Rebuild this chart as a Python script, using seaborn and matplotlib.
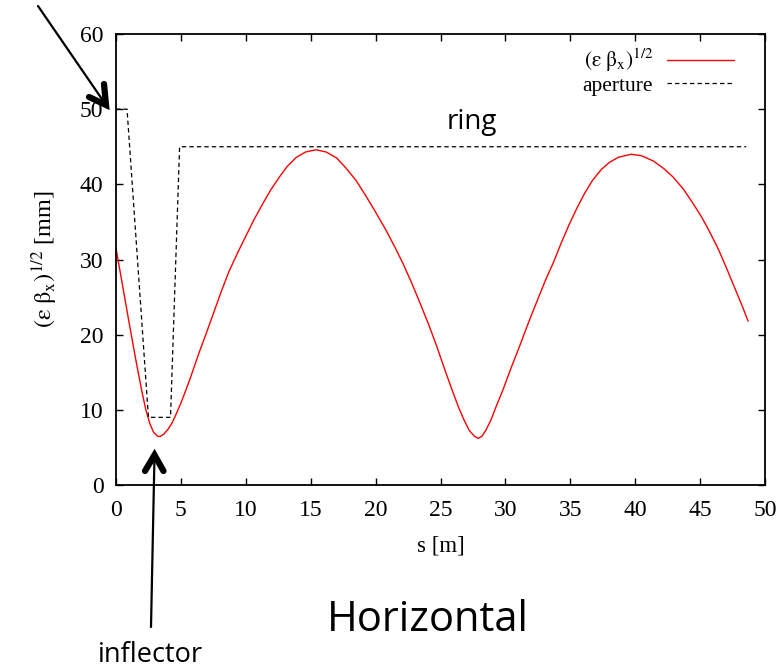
import matplotlib
matplotlib.use("Agg")
import matplotlib.pyplot as plt
import seaborn as sns
import pandas as pd

# Beam envelope sqrt(eps*beta_x) along the line [mm]
s_beam = [0.0, 0.5, 1.0, 1.5, 2.0, 2.3, 2.6, 2.9, 3.2, 3.4, 3.7, 4.0, 4.3, 4.6,
          5.0, 5.4, 5.8, 6.4, 7.0, 7.5, 8.1, 8.7, 9.4, 10.0, 10.6, 11.3, 11.9,
          12.6, 13.2, 13.9, 14.6, 15.4, 16.2, 17.0, 17.7, 18.5, 19.2, 19.9, 20.8,
          21.5, 22.1, 22.8, 23.4, 24.1, 24.7, 25.3, 25.9, 26.4, 26.8, 27.2, 27.6,
          27.9, 28.2, 28.5, 28.9, 29.3, 29.8, 30.4, 31.1, 31.8, 32.4, 33.1, 33.7,
          34.3, 34.9, 35.5, 36.1, 36.7, 37.4, 38.0, 38.7, 39.7, 40.5, 41.4, 42.2,
          42.9, 43.7, 44.4, 45.1, 45.7, 46.4, 47.0, 47.6, 48.2, 48.7]
env_beam = [31.5, 26.6, 21.7, 16.9, 12.4, 10.0, 8.2, 7.0, 6.5, 6.45, 6.8, 7.4, 8.2, 9.3,
            10.9, 12.7, 14.6, 17.6, 20.4, 22.8, 25.7, 28.4, 31.0, 33.1, 35.2, 37.4, 39.2,
            41.0, 42.4, 43.6, 44.3, 44.6, 44.3, 43.5, 42.2, 40.5, 38.6, 36.6, 33.9,
            31.6, 29.5, 26.8, 24.3, 21.3, 18.5, 15.5, 12.6, 10.3, 8.7, 7.3, 6.5,
            6.2, 6.5, 7.3, 8.7, 10.5, 12.6, 15.4, 18.5, 21.7, 24.3, 27.3, 29.6,
            32.2, 34.6, 36.8, 38.8, 40.5, 42.0, 42.9, 43.6, 44.0, 43.8, 43.1, 42.1,
            41.0, 39.4, 37.6, 35.7, 33.8, 31.4, 29.0, 26.5, 24.0, 21.8]

# Physical aperture (inflector, then ring) [mm]
s_ap = [0.0, 0.85, 2.5, 4.2, 4.9, 48.55]
ap = [50.0, 50.0, 9.0, 9.0, 45.0, 45.0]

x_ticks = [0, 5, 10, 15, 20, 25, 30, 35, 40, 45, 50]
y_ticks = [0, 10, 20, 30, 40, 50, 60]

sns.set_style("ticks")
plt.rcParams["font.family"] = ["Liberation Serif", "DejaVu Serif"]
plt.rcParams["mathtext.fontset"] = "stix"
plt.rcParams["text.color"] = "black"
plt.rcParams["axes.labelcolor"] = "black"

W, H = 781, 668
fig = plt.figure(figsize=(W / 100, H / 100), dpi=100)
ax = fig.add_axes([116 / W, 1 - 485 / H, (765 - 116) / W, (485 - 34) / H])

beam = pd.DataFrame({"s": s_beam, "env": env_beam})
aper = pd.DataFrame({"s": s_ap, "env": ap})
sym = r"(\mathrm{\varepsilon}\ \mathrm{\beta}_{\mathrm{x}})^{1/2}"
sns.lineplot(data=beam, x="s", y="env", ax=ax, color="#ff0000", lw=1.0,
             label=f"${sym}$", sort=False)
sns.lineplot(data=aper, x="s", y="env", ax=ax, color="black", lw=0.9,
             linestyle=(0, (3.5, 2.5)), label="aperture", sort=False)

ax.set_xlim(0, 50)
ax.set_ylim(0, 60)
ax.set_xticks(x_ticks)
ax.set_yticks(y_ticks)
ax.tick_params(direction="in", length=5, width=1.0, top=True, right=True,
               labelsize=17, pad=9, colors="black")
ax.tick_params(axis="x", pad=11)
for sp in ax.spines.values():
    sp.set_linewidth(1.3)
    sp.set_color("black")
ax.set_xlabel("s [m]", fontsize=16.5, labelpad=10)
ax.set_ylabel(f"${sym}$ [mm]", fontsize=17.5, labelpad=14)

leg = ax.legend(loc="upper right", bbox_to_anchor=(0.972, 1.0), frameon=False,
                markerfirst=False, fontsize=15.5, handlelength=3.1, handletextpad=0.65,
                labelspacing=0.05, borderaxespad=0.2)

# Annotations outside the plotting area
ax.text(0.549, 0.805, "ring", transform=ax.transAxes, fontsize=20,
        family="Open Sans", ha="center", va="center")
fig.text(428 / W, 1 - 620 / H, "Horizontal", fontsize=30, family="Open Sans",
         ha="center", va="center")
fig.text(150 / W, 1 - 655 / H, "inflector", fontsize=19.5, family="Open Sans",
         ha="center", va="center")


def arrow(tail, tip, arm1, arm2):
    fy = lambda p: (p[0], H - p[1])
    ax.annotate("", xy=fy(tip), xytext=fy(tail), xycoords="figure pixels",
                textcoords="figure pixels", annotation_clip=False,
                arrowprops=dict(arrowstyle="-", lw=1.6, color="black",
                                shrinkA=0, shrinkB=0))
    xs = [arm1[0], tip[0], arm2[0]]
    ys = [H - arm1[1], H - tip[1], H - arm2[1]]
    fig.add_artist(plt.Line2D(xs, ys, transform=None, lw=4.5, color="black",
                              solid_capstyle="round", solid_joinstyle="miter"))


arrow((38, 6), (106, 105), (104, 84), (89, 97))
arrow((151, 627), (154.5, 455), (145, 471), (163.5, 471))

fig.savefig("out.png", dpi=100)
